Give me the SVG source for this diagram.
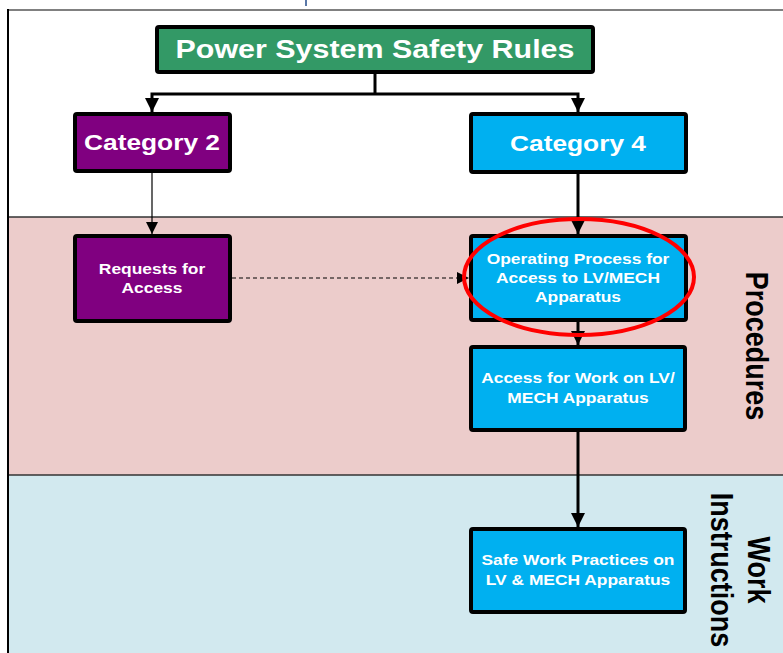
<svg xmlns="http://www.w3.org/2000/svg" width="783" height="653" viewBox="0 0 783 653">
<style>
.box{stroke:#000;stroke-width:4;}
.green{fill:#339966;}
.purple{fill:#800080;}
.blue{fill:#00b0f0;}
.lbl{fill:#fff;font-family:"Liberation Sans",Arial,sans-serif;font-weight:bold;text-anchor:middle;}
.big{font-size:26px;}
.cat{font-size:22.5px;}
.sm{font-size:15px;}
.side{fill:#000;font-family:"Liberation Sans",Arial,sans-serif;font-weight:bold;font-size:27px;text-anchor:middle;}
.thick{stroke:#000;stroke-width:3;fill:none;}
.thin{stroke:#000;stroke-width:1.2;fill:none;}
</style>
<defs>
<marker id="ah" markerUnits="userSpaceOnUse" viewBox="0 0 14 14" refX="14" refY="7" markerWidth="14" markerHeight="14" orient="auto"><path d="M0,0 L14,7 L0,14 z" fill="#000"/></marker>
<marker id="ahs" markerUnits="userSpaceOnUse" viewBox="0 0 12 12" refX="12" refY="6" markerWidth="12" markerHeight="12" orient="auto"><path d="M0,0 L12,6 L0,12 z" fill="#000"/></marker>
</defs>
<rect x="0" y="0" width="783" height="653" fill="#fff"/>
<g id="bands">
<rect x="8" y="217" width="775" height="258" fill="#eccccb"/>
<rect x="8" y="475" width="775" height="178" fill="#d2e9ef"/>
<line x1="8" y1="217" x2="783" y2="217" stroke="#333" stroke-width="1.5"/>
<line x1="8" y1="475" x2="783" y2="475" stroke="#333" stroke-width="1.5"/>
<line x1="7" y1="10" x2="783" y2="10" stroke="#808080" stroke-width="2"/>
<line x1="8" y1="9" x2="8" y2="653" stroke="#000" stroke-width="2"/>
<line x1="306" y1="0" x2="306" y2="6" stroke="#5a78a8" stroke-width="2"/>
</g>
<g id="connectors">
<path class="thick" d="M375,74 V94"/>
<path class="thick" d="M375,94 H152 V112" marker-end="url(#ah)"/>
<path class="thick" d="M375,94 H578 V112" marker-end="url(#ah)"/>
<path class="thin" d="M152,172 V234" marker-end="url(#ahs)"/>
<path class="thick" d="M578,173 V234" marker-end="url(#ah)"/>
<path class="thin" d="M232,278 H469" stroke-dasharray="4,3" marker-end="url(#ahs)"/>
<path class="thick" d="M578,322 V345" marker-end="url(#ah)"/>
<path class="thick" d="M578,432 V527" marker-end="url(#ah)"/>
</g>
<g id="pssr">
<rect class="box green" x="157" y="27" width="436" height="45" rx="2"/>
<text class="lbl big" transform="translate(375,58) scale(1.17,1)">Power System Safety Rules</text>
</g>
<g id="cat2">
<rect class="box purple" x="75" y="114" width="155" height="57" rx="2"/>
<text class="lbl cat" transform="translate(152,150) scale(1.17,1)">Category 2</text>
</g>
<g id="cat4">
<rect class="box blue" x="471" y="114" width="215" height="58" rx="2"/>
<text class="lbl cat" transform="translate(578,151) scale(1.17,1)">Category 4</text>
</g>
<g id="requests">
<rect class="box purple" x="75" y="236" width="155" height="85" rx="2"/>
<text class="lbl sm" transform="translate(152,274) scale(1.16,1)">Requests for</text>
<text class="lbl sm" transform="translate(152,293) scale(1.16,1)">Access</text>
</g>
<g id="operating">
<rect class="box blue" x="471" y="236" width="215" height="84" rx="2"/>
<text class="lbl sm" transform="translate(578,264) scale(1.16,1)">Operating Process for</text>
<text class="lbl sm" transform="translate(578,283) scale(1.16,1)">Access to LV/MECH</text>
<text class="lbl sm" transform="translate(578,302) scale(1.16,1)">Apparatus</text>
</g>
<g id="access">
<rect class="box blue" x="471" y="347" width="214" height="83" rx="2"/>
<text class="lbl sm" transform="translate(578,383) scale(1.16,1)">Access for Work on LV/</text>
<text class="lbl sm" transform="translate(578,403) scale(1.16,1)">MECH Apparatus</text>
</g>
<g id="safework">
<rect class="box blue" x="471" y="529" width="214" height="83" rx="2"/>
<text class="lbl sm" transform="translate(578,565) scale(1.16,1)">Safe Work Practices on</text>
<text class="lbl sm" transform="translate(578,585) scale(1.16,1)">LV &amp; MECH Apparatus</text>
</g>
<g id="highlight">
<ellipse cx="579" cy="277" rx="115" ry="58" fill="none" stroke="#ff0000" stroke-width="4"/>
</g>
<g id="procedures-label">
<text class="side" transform="translate(757,346) rotate(90) scale(1,1.17)" y="9.7">Procedures</text>
</g>
<g id="work-instructions-label">
<text class="side" transform="translate(741,570) rotate(90) scale(1,1.17)"><tspan x="0" y="-6">Work</tspan><tspan x="0" y="26">Instructions</tspan></text>
</g>
</svg>
